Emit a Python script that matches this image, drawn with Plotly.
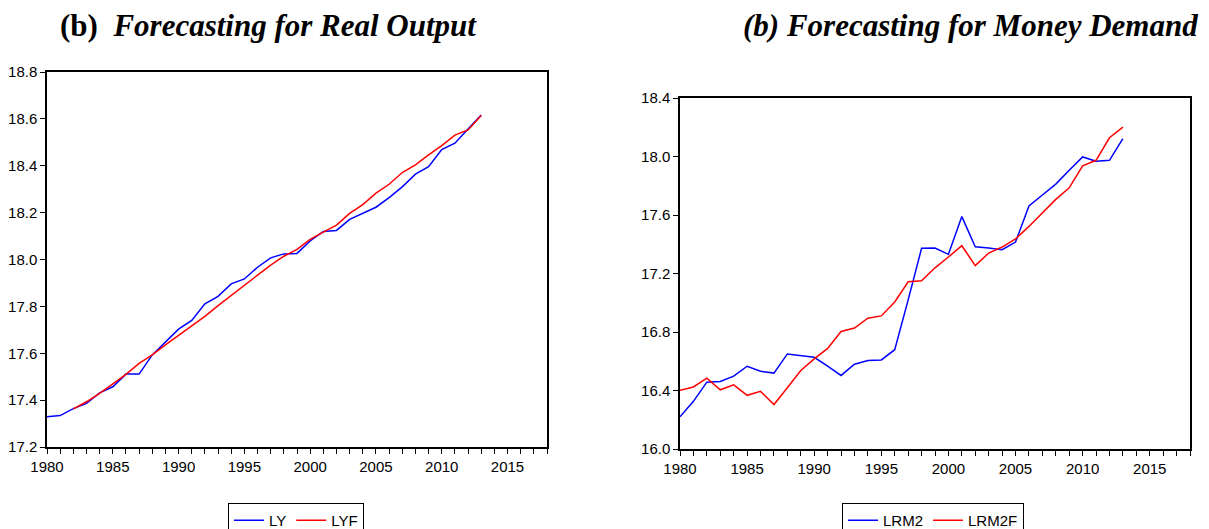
import plotly.graph_objects as go

years = list(range(1980, 2014))

ly = [17.329, 17.334, 17.364, 17.386, 17.431, 17.457, 17.511, 17.511, 17.593, 17.650,
      17.703, 17.740, 17.811, 17.843, 17.896, 17.917, 17.967, 18.007, 18.024, 18.026,
      18.079, 18.120, 18.124, 18.171, 18.196, 18.223, 18.264, 18.310, 18.364, 18.396,
      18.469, 18.496, 18.557, 18.617]

lyf_years = list(range(1982, 2014))
lyf = [17.363, 17.393, 17.429, 17.471, 17.510, 17.557, 17.593, 17.636,
       17.676, 17.714, 17.757, 17.803, 17.847, 17.893, 17.933, 17.976, 18.014, 18.043,
       18.086, 18.117, 18.147, 18.197, 18.234, 18.283, 18.321, 18.371, 18.404, 18.446,
       18.486, 18.531, 18.553, 18.614]

lrm2 = [16.220, 16.326, 16.457, 16.462, 16.498, 16.566, 16.532, 16.519, 16.650, 16.639,
        16.627, 16.566, 16.503, 16.580, 16.605, 16.609, 16.679, 17.020, 17.372, 17.374,
        17.331, 17.589, 17.383, 17.374, 17.363, 17.415, 17.662, 17.737, 17.811, 17.906,
        17.997, 17.968, 17.974, 18.122]

lrm2f = [16.401, 16.424, 16.485, 16.405, 16.439, 16.367, 16.394, 16.304, 16.419, 16.537,
         16.616, 16.688, 16.804, 16.827, 16.894, 16.910, 17.005, 17.143, 17.150, 17.239,
         17.313, 17.390, 17.254, 17.340, 17.381, 17.436, 17.522, 17.612, 17.707, 17.786,
         17.936, 17.974, 18.128, 18.201]

W, H = 1209, 529
BLUE = "#0000FF"
RED = "#FF0000"
tick_font = dict(family="Liberation Sans Narrow, Liberation Sans, Arial", size=15, color="black")

fig = go.Figure()
fig.add_trace(go.Scatter(x=years, y=ly, mode="lines", name="LY",
                         line=dict(color=BLUE, width=1.5), xaxis="x", yaxis="y", legend="legend"))
fig.add_trace(go.Scatter(x=lyf_years, y=lyf, mode="lines", name="LYF",
                         line=dict(color=RED, width=1.5), xaxis="x", yaxis="y", legend="legend"))
fig.add_trace(go.Scatter(x=years, y=lrm2, mode="lines", name="LRM2",
                         line=dict(color=BLUE, width=1.5), xaxis="x2", yaxis="y2", legend="legend2"))
fig.add_trace(go.Scatter(x=years, y=lrm2f, mode="lines", name="LRM2F",
                         line=dict(color=RED, width=1.5), xaxis="x2", yaxis="y2", legend="legend2"))

def xax(domain, anchor):
    return dict(domain=domain, anchor=anchor, range=[1980, 2018], dtick=5, tick0=1980,
                automargin=False,
                showgrid=False, zeroline=False, showline=True, linecolor="black", linewidth=1.5,
                mirror=True, ticks="outside", ticklen=5, tickcolor="black", tickfont=tick_font,
                minor=dict(dtick=1, ticks="outside", ticklen=5, tickcolor="black", showgrid=False))

def yax(domain, anchor, rng, dt):
    return dict(domain=domain, anchor=anchor, range=rng, dtick=dt, tick0=rng[0],
                automargin=False,
                tickformat=".1f", showgrid=False, zeroline=False, showline=True,
                linecolor="black", linewidth=1.5, mirror=True, ticks="outside", ticklen=5,
                tickcolor="black", tickfont=tick_font)

leg_font = dict(family="Liberation Sans Narrow, Liberation Sans, Arial", size=15, color="black")

fig.update_layout(
    width=W, height=H,
    margin=dict(l=0, r=0, t=0, b=0, autoexpand=False),
    paper_bgcolor="white", plot_bgcolor="white",
    xaxis=xax([47 / W, 547 / W], "y"),
    yaxis=yax([1 - 447 / H, 1 - 72 / H], "x", [17.2, 18.8], 0.2),
    xaxis2=xax([680 / W, 1190 / W], "y2"),
    yaxis2=yax([1 - 449 / H, 1 - 98 / H], "x2", [16.0, 18.4], 0.4),
    legend=dict(orientation="h", x=296 / W, xanchor="center", y=1 - 503 / H, yanchor="top",
                bordercolor="black", borderwidth=1, bgcolor="white", font=leg_font, itemwidth=30),
    legend2=dict(orientation="h", x=933 / W, xanchor="center", y=1 - 503 / H, yanchor="top",
                 bordercolor="black", borderwidth=1, bgcolor="white", font=leg_font, itemwidth=30),
    showlegend=True,
)

title_font = dict(family="Liberation Serif, Times New Roman, serif", size=31, color="black")
fig.add_annotation(text="<b>(b)</b>  <b><i>Forecasting for Real Output</i></b>",
                   xref="paper", yref="paper", x=58 / W, y=1 - 25 / H, xanchor="left", yanchor="middle",
                   showarrow=False, font=title_font)
fig.add_annotation(text="<b><i>(b) Forecasting for Money Demand</i></b>",
                   xref="paper", yref="paper", x=1200 / W, y=1 - 25 / H, xanchor="right", yanchor="middle",
                   showarrow=False, font=title_font)

fig.write_html("out.html")
